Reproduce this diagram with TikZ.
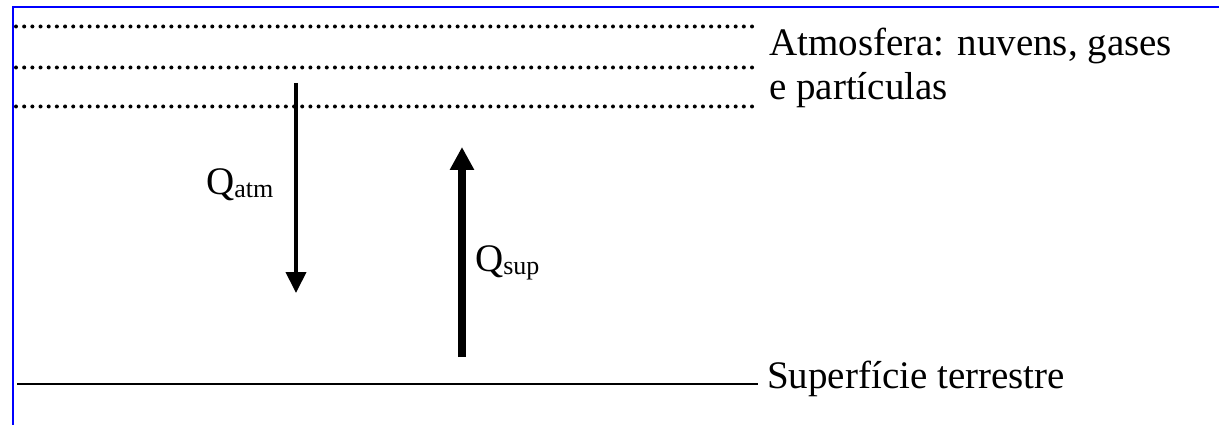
\documentclass[tikz,border=0pt]{standalone}
\usepackage{fontspec}
\setmainfont{Liberation Serif}
\usetikzlibrary{arrows.meta}
\definecolor{framblue}{RGB}{0,0,255}
\newcommand{\subtxt}[1]{{\fontsize{26}{26}\selectfont\raisebox{-3pt}{#1}}}
\begin{document}
\begin{tikzpicture}[x=1pt,y=-1pt,
  frame/.style={draw=framblue, line width=2pt},
  dotmark/.style={fill=black},
  ground/.style={line width=2.2pt},
  lbl/.style={font=\fontsize{39}{46}\selectfont, inner sep=0pt, anchor=base west},
  thinflux/.style={-{Triangle[length=21pt,width=20pt]}, line width=4pt},
  thickflux/.style={-{Triangle[length=23pt,width=23pt]}, line width=8pt},
]
\useasboundingbox (0,0) rectangle (1219,425);
% frame
\coordinate (fr1) at (1219,7);
\coordinate (fr2) at (13,7);
\coordinate (fr3) at (13,425);
\draw[frame] (fr1) -- (fr2) -- (fr3);
% atmosphere layers (dotted)
\foreach \yy in {26.5,67.5,106.5}{
  \foreach \i in {0,...,90}{
    \fill[dotmark] ({16+\i*8.178},\yy) circle (2pt);
  }
}
% ground
\coordinate (gw) at (17,384); \coordinate (ge) at (758,384);
\draw[ground] (gw) -- (ge);
% labels
\node[lbl] (atm1) at (769,56) {Atmosfera: nuvens, gases};
\node[lbl] (atm2) at (769,100) {e partículas};
\node[lbl] (surf) at (767,388) {Superfície terrestre};
% fluxes
\coordinate (qas) at (296,83);  \coordinate (qae) at (296,293);
\coordinate (qss) at (462,357); \coordinate (qse) at (462,147);
\draw[thinflux] (qas) -- (qae);
\draw[thickflux] (qss) -- (qse);
\node[lbl] (qatm) at (206,194) {Q\subtxt{atm}};
\node[lbl] (qsup) at (475,271) {Q\subtxt{sup}};
\end{tikzpicture}
\end{document}
